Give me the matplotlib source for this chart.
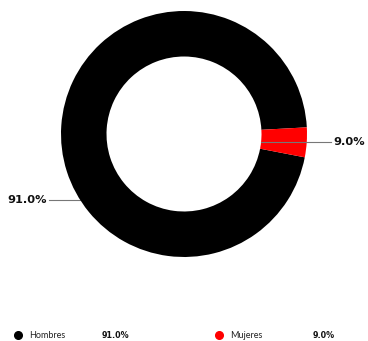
import numpy as np
import matplotlib
matplotlib.use("Agg")
import matplotlib.pyplot as plt

# datos
categorias = ["Hombres", "Mujeres"]
porcentajes = ["91.0%", "9.0%"]
# tamaño de los sectores tal como se ven dibujados
valores = [96.1, 3.9]
colores = ["#000000", "#ff0000"]

plt.rcParams['font.family'] = ['Lato', 'DejaVu Sans']

fig = plt.figure(figsize=(3.68, 3.41), dpi=100)
ax = fig.add_axes([0, 0, 1, 1])

cx, cy, r = 184, 207, 123
ancho = 0.37
inicio = 3.1
wedges, _ = ax.pie(valores, colors=colores, startangle=inicio, counterclock=True,
                   center=(cx, cy), radius=r, frame=True,
                   wedgeprops=dict(width=r * ancho, linewidth=0))
ax.set_xlim(0, 368)
ax.set_ylim(0, 341)
ax.set_aspect('equal')
ax.axis('off')

# etiquetas con linea guia
ang_mujeres = (wedges[1].theta1 + wedges[1].theta2) / 2
ang_hombres = 212.4
for ang, txt, lado in [(ang_hombres, porcentajes[0], -1), (ang_mujeres, porcentajes[1], 1)]:
    a = np.deg2rad(ang)
    x0 = cx + r * np.cos(a)
    y0 = cy + r * np.sin(a)
    if lado > 0:
        x0 = cx + (1 - ancho) * r * np.cos(a)
        x1 = 331
    else:
        x1 = 49
    ax.plot([x0, x1], [y0, y0], color="#777777", lw=0.8, zorder=0 if lado < 0 else 3)
    ax.text(x1 + 2 * lado, y0, txt, ha='left' if lado > 0 else 'right', va='center',
            fontsize=8.2, fontweight='bold', color='#111111', family='DejaVu Sans')

# leyenda inferior
ly = 341 - 335
pos = [(18, 29, 102), (219, 230, 313)]
for (xm, xt, xv), cat, pct, col in zip(pos, categorias, porcentajes, colores):
    ax.plot([xm], [ly], 'o', color=col, markersize=5.5, clip_on=False)
    ax.text(xt, ly, cat, ha='left', va='center', fontsize=6.5, color='#222222')
    ax.text(xv, ly, pct, ha='left', va='center', fontsize=5.8, fontweight='bold',
            color='#111111', family='DejaVu Sans')

fig.savefig("out.png", dpi=100)
